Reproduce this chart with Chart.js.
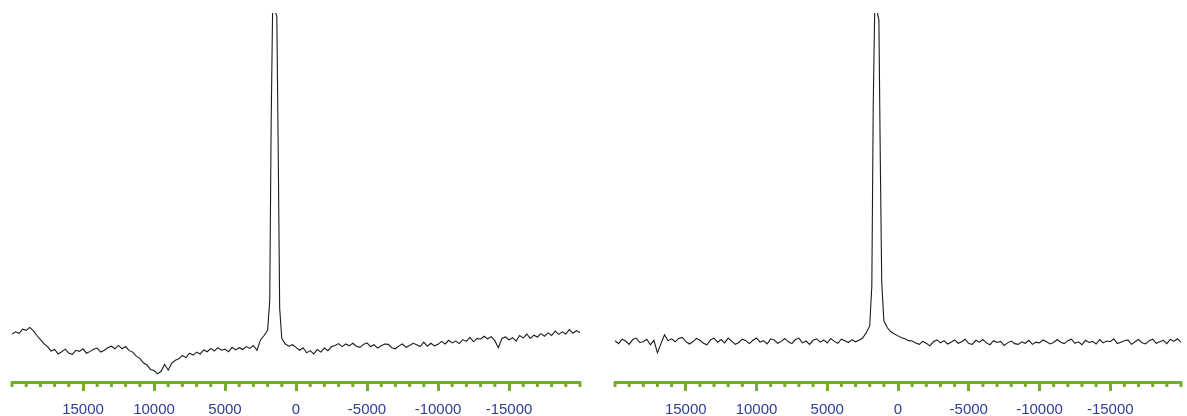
<!DOCTYPE html>
<html lang="en">
<head>
<meta charset="UTF-8">
<script src="https://cdn.jsdelivr.net/npm/chart.js@4.4.1/dist/chart.umd.min.js"></script>
<title>Spectra</title>
<style>
  body { margin: 0; background: #fff; width: 1187px; height: 416px; overflow: hidden; position: relative; }
  .panel { position: absolute; top: 0; height: 429px; }
  #leftBox { left: 0; width: 598px; }
  #rightBox { left: 600px; width: 591px; }
</style>
</head>
<body>
<div class="panel" id="leftBox"><canvas id="leftChart"></canvas></div>
<div class="panel" id="rightBox"><canvas id="rightChart"></canvas></div>
<script>
// frequency grid (Hz), shared by both spectra
const freqHz = [
  20000, 19750, 19500, 19250, 19000, 18750, 18500, 18250, 18000, 17750,
  17500, 17250, 17000, 16750, 16500, 16250, 16000, 15750, 15500, 15250,
  15000, 14750, 14500, 14250, 14000, 13750, 13500, 13250, 13000, 12750,
  12500, 12250, 12000, 11750, 11500, 11250, 11000, 10750, 10500, 10250,
  10000, 9750, 9500, 9250, 9000, 8750, 8500, 8250, 8000, 7750,
  7500, 7250, 7000, 6750, 6500, 6250, 6000, 5750, 5500, 5250,
  5000, 4750, 4500, 4250, 4000, 3750, 3500, 3250, 3000, 2750,
  2500, 2250, 2000, 1850, 1750, 1650, 1500, 1350, 1250, 1150,
  1000, 750, 500, 250, 0, -250, -500, -750, -1000, -1250,
  -1500, -1750, -2000, -2250, -2500, -2750, -3000, -3250, -3500, -3750,
  -4000, -4250, -4500, -4750, -5000, -5250, -5500, -5750, -6000, -6250,
  -6500, -6750, -7000, -7250, -7500, -7750, -8000, -8250, -8500, -8750,
  -9000, -9250, -9500, -9750, -10000, -10250, -10500, -10750, -11000, -11250,
  -11500, -11750, -12000, -12250, -12500, -12750, -13000, -13250, -13500, -13750,
  -14000, -14250, -14500, -14750, -15000, -15250, -15500, -15750, -16000, -16250,
  -16500, -16750, -17000, -17250, -17500, -17750, -18000, -18250, -18500, -18750,
  -19000, -19250, -19500, -19750, -20000, -20250
];

// left spectrum intensity (arb. units, peak runs off the top at 100)
const leftIntensity = [
  13.0, 13.6, 13.2, 14.3, 14.0, 14.8, 13.9, 12.6, 11.5, 10.4,
  9.6, 8.4, 8.8, 7.6, 8.2, 8.9, 7.8, 7.5, 8.6, 8.3,
  9.0, 7.8, 8.3, 8.9, 9.2, 8.1, 8.6, 9.3, 9.7, 9.0,
  9.9, 9.0, 9.6, 8.5, 8.1, 7.0, 6.4, 5.2, 4.6, 3.4,
  3.1, 2.2, 2.9, 4.8, 3.2, 5.1, 5.9, 6.3, 7.2, 6.6,
  7.8, 7.3, 8.1, 7.6, 8.7, 8.2, 9.1, 8.4, 9.3, 8.6,
  8.9, 8.2, 9.4, 8.7, 9.3, 8.8, 9.6, 9.1, 9.9, 8.6,
  11.4, 12.6, 14.0, 22, 70, 100, 101, 99, 62, 20,
  11.8, 10.3, 9.7, 10.1, 9.4, 8.6, 9.3, 7.9, 8.5, 7.6,
  8.8, 8.1, 9.2, 8.5, 9.6, 9.9, 10.4, 9.6, 10.3, 9.8,
  10.5, 9.7, 9.4, 10.2, 10.6, 9.6, 10.1, 9.2, 9.8, 10.3,
  10.2, 9.3, 9.0, 9.8, 10.3, 9.4, 9.9, 10.5, 10.1, 9.6,
  10.8, 9.7, 10.5, 9.8, 10.2, 11.0, 10.3, 11.3, 10.6, 11.1,
  10.4, 11.5, 11.0, 12.1, 10.9, 11.8, 11.6, 12.4, 11.7, 12.3,
  11.2, 9.3, 11.8, 12.2, 11.4, 12.0, 11.1, 12.6, 11.9, 13.0,
  11.8, 12.7, 12.2, 13.1, 12.4, 13.3, 12.6, 13.8, 12.9, 13.6,
  13.0, 14.2, 13.2, 13.9, 13.4, 14.8
];

// right spectrum intensity
const rightIntensity = [
  11.2, 10.4, 11.6, 11.1, 10.2, 11.5, 11.9, 10.7, 10.9, 11.6,
  10.1, 11.3, 7.9, 10.4, 12.8, 11.2, 11.7, 10.9, 11.8, 12.1,
  11.0, 10.3, 10.9, 11.8, 11.3, 10.5, 10.1, 11.4, 11.9, 10.8,
  11.5, 10.6, 11.9, 11.1, 10.2, 10.7, 11.6, 11.2, 10.4, 11.3,
  11.9, 10.8, 11.2, 10.3, 11.7, 11.4, 10.5, 11.0, 11.8, 10.9,
  10.4, 11.5, 11.9, 10.6, 11.1, 10.2, 11.3, 11.7, 10.8, 11.4,
  10.6, 11.8, 11.0, 10.5, 11.6, 11.2, 10.7, 11.5, 10.9, 11.3,
  11.9, 13.3, 15.2, 26, 75, 100, 101, 98, 60, 27,
  16.6, 14.7, 13.6, 13.0, 12.5, 12.0, 11.7, 11.2, 11.1, 10.6,
  10.2, 11.0, 10.5, 9.8, 10.9, 11.4, 10.6, 11.2, 10.3, 10.8,
  11.4, 10.5, 10.9, 11.6, 10.4, 10.2, 11.3, 10.8, 11.5, 10.6,
  10.1, 11.2, 10.7, 11.0, 9.9, 10.6, 11.1, 10.4, 10.2, 10.9,
  10.5, 11.3, 10.2, 10.8, 10.6, 11.4, 10.9, 10.3, 10.7, 11.5,
  10.8, 10.4, 11.2, 11.6, 10.5, 10.9, 10.1, 11.3, 10.7, 11.0,
  10.3, 11.5, 10.6, 11.1, 10.9, 11.7, 10.4, 10.8, 11.2, 11.4,
  10.2, 10.9, 11.5, 10.6, 10.3, 11.2, 11.6, 10.5, 10.9, 11.3,
  10.4, 11.6, 11.0, 11.7, 10.8, 11.2
];

const axisGreen = '#72ae2e';
const labelBlue = '#2f3d94';

function isMajor(v) {
  return v % 5000 === 0 && Math.abs(v) < 20000;
}

// short ticks every 1000 Hz (long ones come from the grid options)
const minorTicks = {
  id: 'minorTicks',
  afterDraw(chart) {
    const scale = chart.scales.x;
    const ctx = chart.ctx;
    ctx.save();
    ctx.strokeStyle = axisGreen;
    ctx.lineWidth = 3;
    scale.ticks.forEach(t => {
      if (t.value % 1000 !== 0 || isMajor(t.value)) return;
      const px = scale.getPixelForValue(t.value);
      ctx.beginPath();
      ctx.moveTo(px, scale.top);
      ctx.lineTo(px, scale.top + 5);
      ctx.stroke();
    });
    ctx.restore();
  }
};

function makeChart(id, values, pad) {
  const ctx = document.getElementById(id).getContext('2d');
  return new Chart(ctx, {
    type: 'line',
    data: {
      datasets: [{
        data: freqHz.map((f, i) => ({ x: f, y: values[i] })),
        borderColor: '#1c1c1c',
        borderWidth: 1.1,
        pointRadius: 0,
        tension: 0,
        fill: false
      }]
    },
    options: {
      responsive: true,
      maintainAspectRatio: false,
      animation: false,
      layout: { padding: pad },
      plugins: { legend: { display: false }, tooltip: { enabled: false } },
      scales: {
        x: {
          type: 'linear',
          reverse: true,
          min: -20000,
          max: 20000,
          border: { display: true, color: axisGreen, width: 3 },
          grid: {
            drawOnChartArea: false,
            drawTicks: true,
            tickLength: 9,
            tickWidth: 3,
            tickColor: c => (c.tick && isMajor(c.tick.value)) ? axisGreen : 'rgba(0,0,0,0)'
          },
          ticks: {
            stepSize: 1000,
            autoSkip: false,
            maxRotation: 0,
            minRotation: 0,
            padding: 10,
            color: labelBlue,
            font: { family: 'Liberation Sans', size: 15 },
            callback: v => isMajor(v) ? String(v) : ''
          }
        },
        y: { display: false, min: 0, max: 100 }
      }
    },
    plugins: [minorTicks]
  });
}

makeChart('leftChart', leftIntensity, { left: 12, right: 18, top: 13, bottom: 0 });
makeChart('rightChart', rightIntensity, { left: 15, right: 0, top: 13, bottom: 0 });
</script>
</body>
</html>
